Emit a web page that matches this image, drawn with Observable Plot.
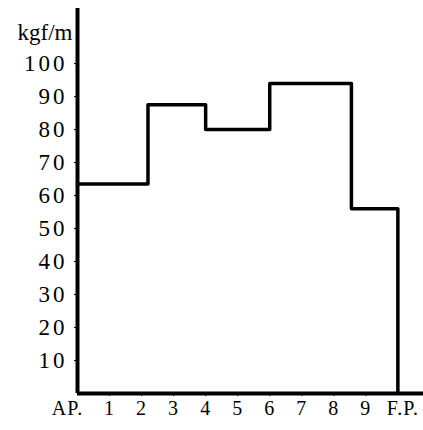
<!DOCTYPE html>
<html>
<head>
<meta charset="utf-8">
<script src="https://cdn.jsdelivr.net/npm/d3@7"></script>
<script src="https://cdn.jsdelivr.net/npm/@observablehq/plot@0.6"></script>
<style>
  body { margin: 0; background: #fff; }
  #chart svg, #chart svg text { font-family: 'Liberation Serif', 'DejaVu Serif', serif !important; }
  #chart g[aria-label="y-axis tick label"] { font-size: 23px; letter-spacing: 3px; }
  #chart g[aria-label="x-axis tick label"] { font-size: 20px; letter-spacing: 1px; }
</style>
</head>
<body>
<div id="chart"></div>
<script>
// Station positions (AP = 0 ... FP = 10) where the load level changes
const stationX = [0, 2.2, 4, 6, 8.55, 10];
// Load level (kgf/m) starting at each change point; last point drops to 0 at FP
const loadY = [63.5, 87.5, 80, 94, 56, 0];
// Axis ticks / labels
const xTicks = [0, 1, 2, 3, 4, 5, 6, 7, 8, 9, 10];
const xTickLabels = ["AP.", "1", "2", "3", "4", "5", "6", "7", "8", "9", "F.P."];
const yTicks = [10, 20, 30, 40, 50, 60, 70, 80, 90, 100];
const unitLabel = "kgf/m";

const data = stationX.map((x, i) => ({x, y: loadY[i]}));
const fmt = d => xTickLabels[xTicks.indexOf(d)];

const chart = Plot.plot({
  width: 423,
  height: 430,
  marginLeft: 77,
  marginRight: 0,
  marginTop: 8,
  marginBottom: 37,
  style: {background: "#fff", color: "#000"},
  x: {domain: [0, 10.8], label: null},
  y: {domain: [0, 116.7], label: null},
  marks: [
    Plot.axisX({ticks: xTicks.slice(0, 1), tickFormat: fmt, tickSize: 0, tickPadding: 7, dx: -10, label: null}),
    Plot.axisX({ticks: xTicks.slice(1, 10), tickFormat: fmt, tickSize: 3, tickPadding: 4, label: null}),
    Plot.axisX({ticks: xTicks.slice(10), tickFormat: fmt, tickSize: 0, tickPadding: 7, dx: 5, label: null}),
    Plot.axisY({ticks: yTicks, tickSize: 3, tickPadding: 7, label: null}),
    Plot.ruleX([0], {y1: 0, y2: 116.7, stroke: "black", strokeWidth: 4}),
    Plot.ruleY([0], {x1: 0, x2: 10.8, stroke: "black", strokeWidth: 4}),
    Plot.line(data, {x: "x", y: "y", curve: "step-after", stroke: "black", strokeWidth: 3.5}),
    Plot.text([unitLabel], {text: d => d, frameAnchor: "top-left", textAnchor: "end", dx: -5, dy: 15, fontSize: 23, fill: "black"})
  ]
});
document.getElementById("chart").appendChild(chart);
</script>
</body>
</html>
